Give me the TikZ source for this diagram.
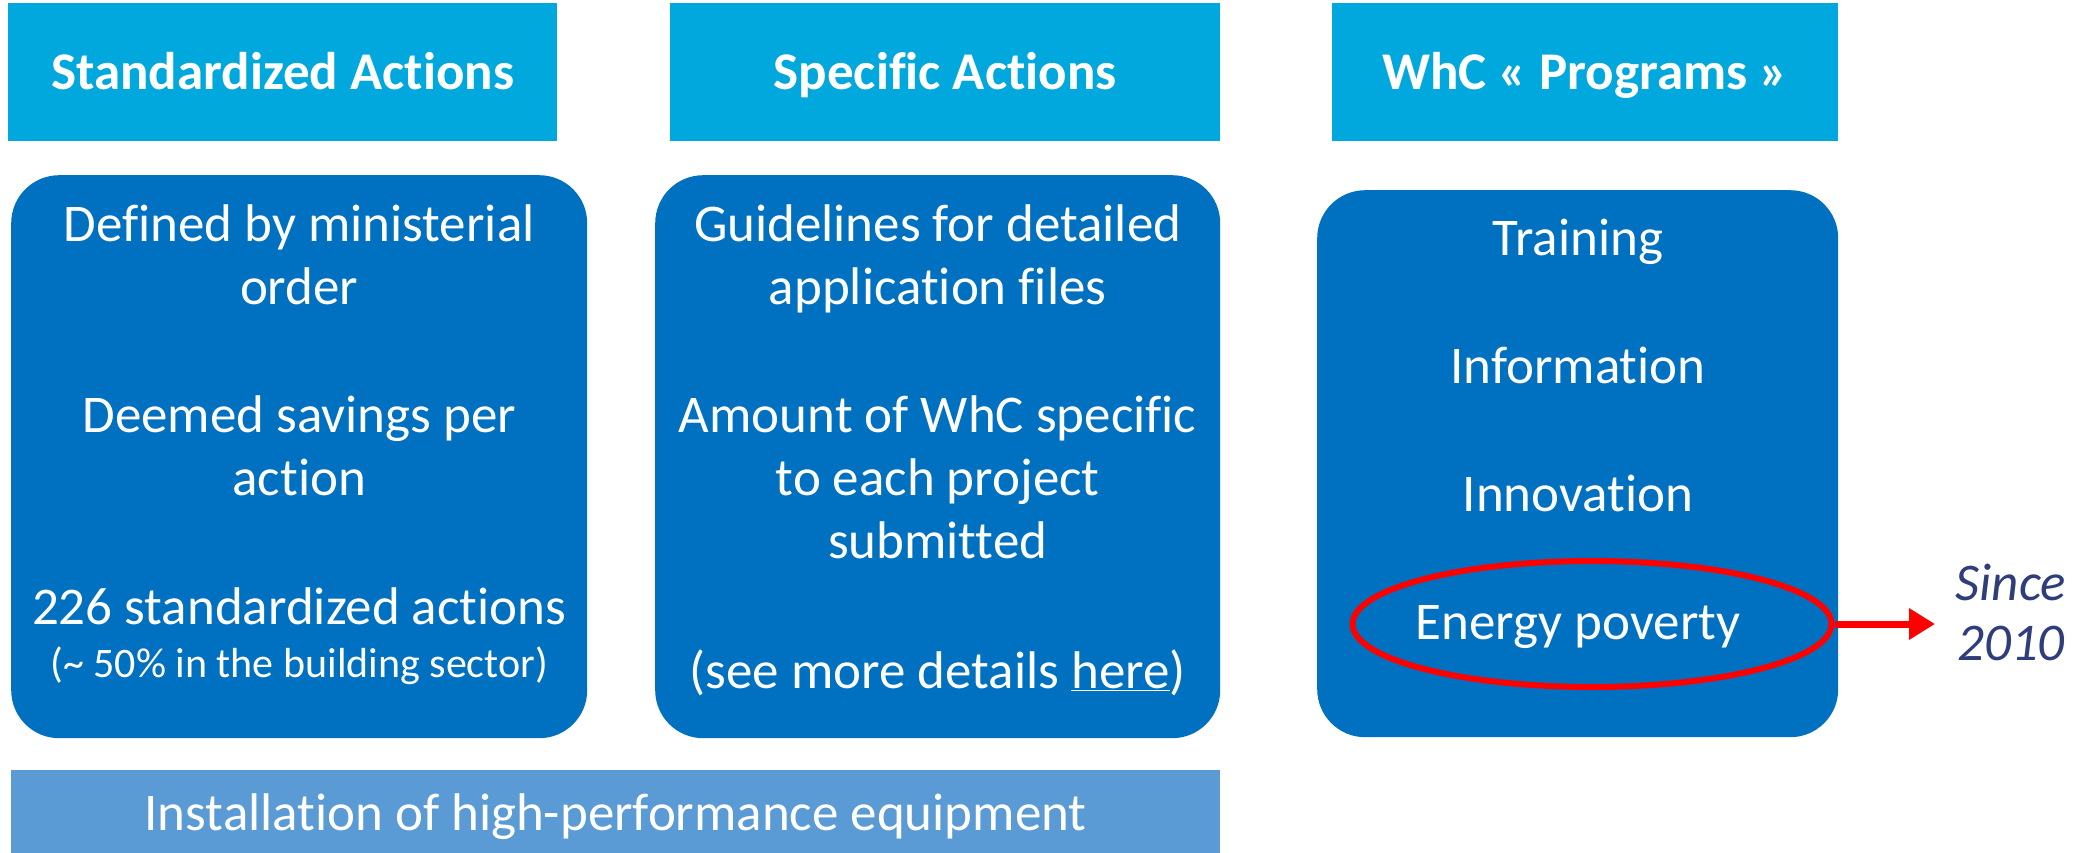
\documentclass[tikz,border=0pt]{standalone}
\usepackage{fontspec}
\setmainfont{Carlito}[Ligatures={NoCommon}]
\usetikzlibrary{arrows.meta,shapes.geometric}
\definecolor{hdr}{RGB}{0,168,222}
\definecolor{boxblue}{RGB}{0,112,192}
\definecolor{barblue}{RGB}{91,155,213}
\definecolor{navy}{RGB}{47,62,122}
\begin{document}
\begin{tikzpicture}[x=1pt,y=-1pt,
  hdrbox/.style={fill=hdr,draw=none,inner sep=0,anchor=north west},
  panel/.style={fill=boxblue,draw=none,inner sep=0,anchor=north west,rounded corners=48pt},
  barbox/.style={fill=barblue,draw=none,inner sep=0,anchor=north west},
  bodytxt/.style={text=white,inner sep=0,anchor=base,font=\fontsize{53}{61}\selectfont},
  smalltxt/.style={text=white,inner sep=0,anchor=base,font=\fontsize{42}{48}\selectfont},
  hdrtxt/.style={text=white,inner sep=0,anchor=base,font=\fontsize{53}{61}\selectfont\bfseries},
  ring/.style={ellipse,draw=red,line width=6pt,minimum width=479pt,minimum height=126pt,inner sep=0},
  sincetxt/.style={text=navy,inner sep=0,anchor=base,font=\fontsize{53}{61}\selectfont\itshape}]
\useasboundingbox (0,0) rectangle (2093,853);
% headers
\node[hdrbox,minimum width=549pt,minimum height=138pt] (h1) at (8,3) {};
\node[hdrbox,minimum width=550pt,minimum height=138pt] (h2) at (670,3) {};
\node[hdrbox,minimum width=506pt,minimum height=138pt] (h3) at (1332,3) {};
\node[hdrtxt] (h1t) at (h1.center |- 0,90) {Standardized Actions};
\node[hdrtxt] (h2t) at (h2.center |- 0,90) {Specific Actions};
\node[hdrtxt] (h3t) at (h3.center |- 0,90) {WhC « Programs »};
% panels
\node[panel,minimum width=576pt,minimum height=563pt] (b1) at (11,175) {};
\node[panel,minimum width=565pt,minimum height=563pt] (b2) at (655,175) {};
\node[panel,minimum width=521pt,minimum height=547pt] (b3) at (1317,190) {};
% bottom bar
\node[barbox,minimum width=1209pt,minimum height=83pt] (bar) at (11,770) {};
\node[bodytxt] (bart) at (bar.center |- 0,830) {Installation of high-performance equipment};
% panel 1 text
\node[bodytxt] (a1) at (b1.center |- 0,241) {Defined by ministerial};
\node[bodytxt] (a2) at (b1.center |- 0,304) {order};
\node[bodytxt] (a3) at (b1.center |- 0,432) {Deemed savings per};
\node[bodytxt] (a4) at (b1.center |- 0,495) {action};
\node[bodytxt] (a5) at (b1.center |- 0,624) {226 standardized actions};
\node[smalltxt] (a6) at (b1.center |- 0,677) {(\textasciitilde{} 50\% in the building sector)};
% panel 2 text
\node[bodytxt] (s1) at (b2.center |- 0,241) {Guidelines for detailed};
\node[bodytxt] (s2) at (b2.center |- 0,304) {application files};
\node[bodytxt] (s3) at (b2.center |- 0,432) {Amount of WhC specific};
\node[bodytxt] (s4) at (b2.center |- 0,495) {to each project};
\node[bodytxt] (s5) at (b2.center |- 0,558) {submitted};
\node[bodytxt] (s6) at (b2.center |- 0,688) {(see more details \underline{here})};
% panel 3 text
\node[bodytxt] (p1) at (1578,255) {Training};
\node[bodytxt] (p2) at (1578,383) {Information};
\node[bodytxt] (p3) at (1578,511) {Innovation};
\node[bodytxt] (p4) at (1578,639) {Energy poverty};
\node[ring] (ep) at (1592,624) {};
% since
\coordinate (tip) at (1935,624);
\draw[red,line width=7pt,-{Triangle[length=26pt,width=30pt]}] (ep.east) -- (tip);
\node[sincetxt] (since1) at (2011,600) {Since};
\node[sincetxt] (since2) at (2011,660) {2010};
\end{tikzpicture}
\end{document}
